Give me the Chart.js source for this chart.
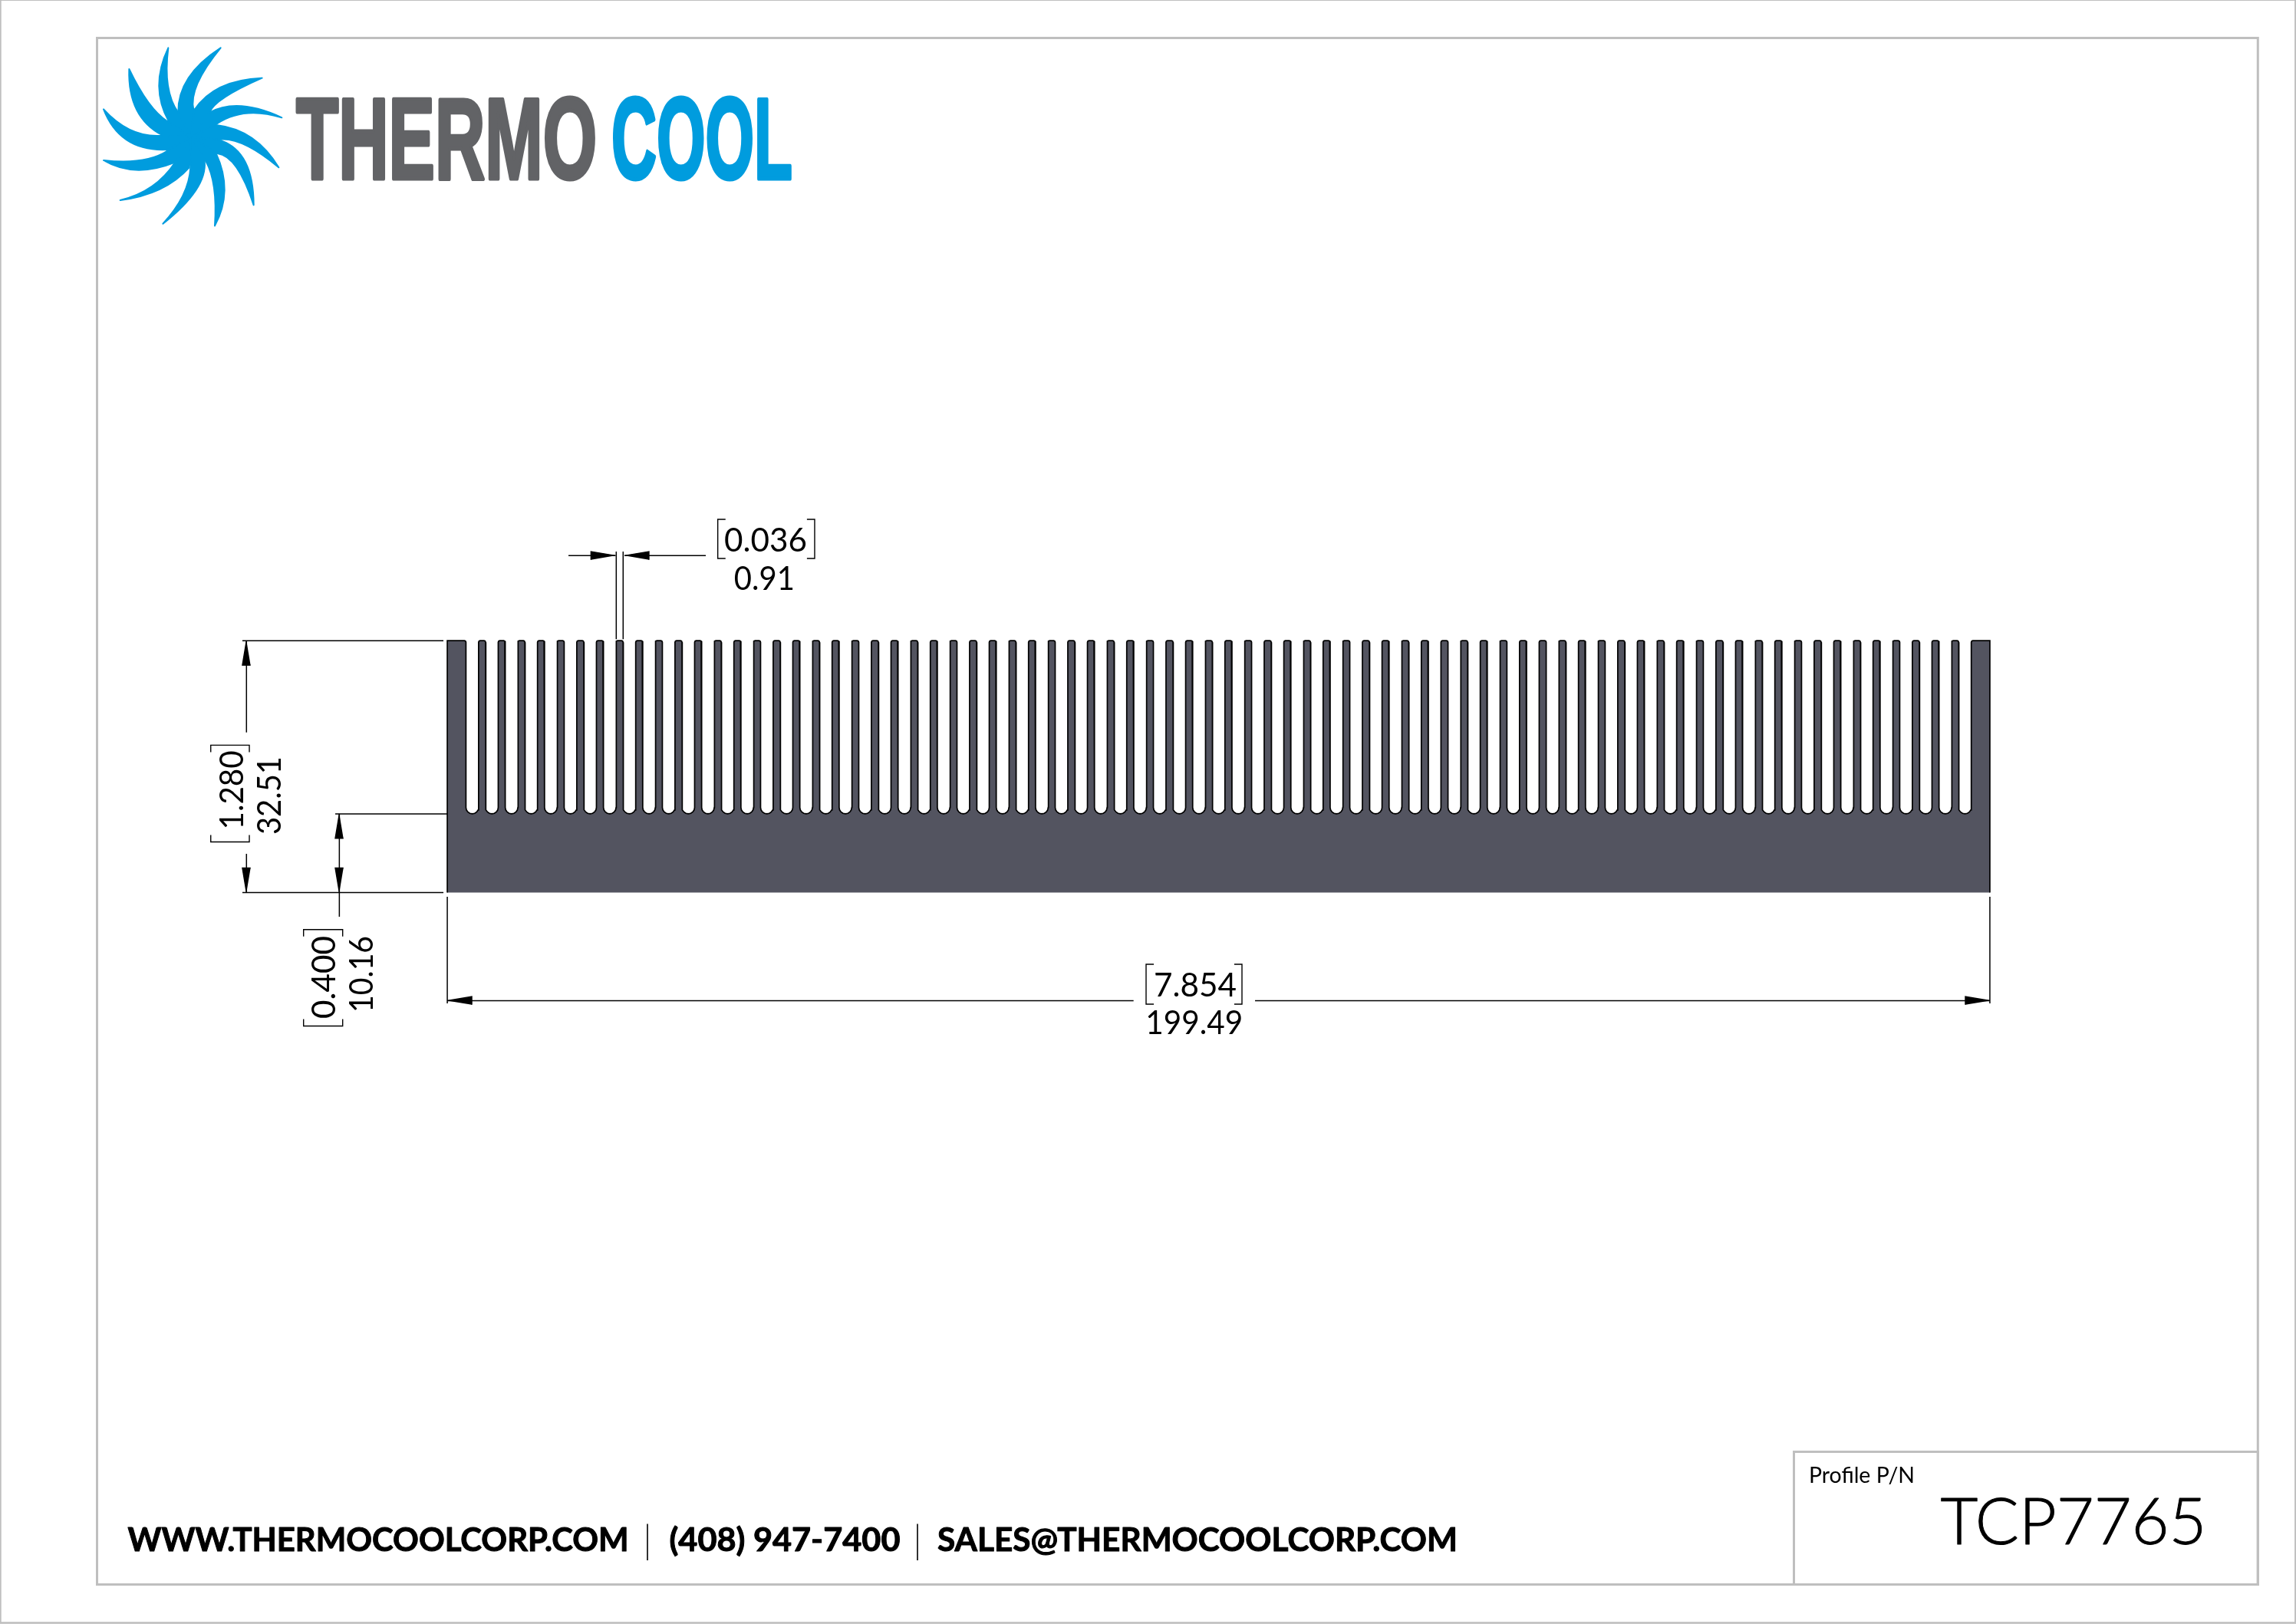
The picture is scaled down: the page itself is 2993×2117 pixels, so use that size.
<!DOCTYPE html>
<html>
<head>
<meta charset="utf-8">
<title>TCP7765</title>
<script src="https://cdn.jsdelivr.net/npm/chart.js@4/dist/chart.umd.min.js"></script>
<style>
html, body { margin: 0; padding: 0; background: #fff; }
canvas { display: block; }
</style>
</head>
<body>
<canvas id="profile" width="2993" height="2117"></canvas>
<script>
// profile values, all in mm
var partWidth = 199.49;
var partHeight = 32.51;
var baseHeight = 10.16;
var finWidth = 0.91;
var slotWidth = 1.63;
var finCentres = [
  4.50, 7.04, 9.58, 12.12, 14.66, 17.20, 19.74, 22.28, 24.82, 27.36, 29.90, 32.44, 34.98, 37.52, 40.06, 42.60,
  45.14, 47.68, 50.22, 52.76, 55.30, 57.84, 60.38, 62.92, 65.46, 68.00, 70.54, 73.08, 75.62, 78.16, 80.70, 83.24,
  85.78, 88.32, 90.86, 93.40, 95.94, 98.48, 101.02, 103.56, 106.10, 108.64, 111.18, 113.72, 116.26, 118.80, 121.34, 123.88,
  126.42, 128.96, 131.50, 134.04, 136.58, 139.12, 141.66, 144.20, 146.74, 149.28, 151.82, 154.36, 156.90, 159.44,
  161.98, 164.52, 167.06, 169.60, 172.14, 174.68, 177.22, 179.76, 182.30, 184.84, 187.38, 189.92, 192.46, 195.00
];
// slot root, offsets from slot centre / base top
var rootDx = [-0.815, -0.753, -0.576, -0.312, 0, 0.312, 0.576, 0.753, 0.815];
var rootDy = [0.815, 0.503, 0.239, 0.062, 0, 0.062, 0.239, 0.503, 0.815];

// dimension lines x1, y1, x2, y2
var dimLines = [
  [15.67, 43.48, 21.75, 43.48], [22.91, 43.48, 33.43, 43.48],
  [21.85, 44.0, 21.85, 32.7], [22.74, 44.0, 22.74, 32.7],
  [-26.5, 32.51, -0.5, 32.51], [-26.5, 0, -0.5, 0],
  [-25.97, 32.51, -25.97, 20.68], [-25.97, 5.0, -25.97, 0],
  [-14.49, 10.16, 3.2, 10.16], [-13.96, 10.16, -13.96, -3.12],
  [0, -0.54, 0, -14.31], [199.49, -0.54, 199.49, -14.31],
  [0, -13.96, 88.75, -13.96], [104.46, -13.96, 199.49, -13.96]
];
// arrow tip x, y, and which way it points
var arrowTips = [
  [21.75, 43.48, 'right'], [22.91, 43.48, 'left'],
  [-25.97, 32.51, 'up'], [-25.97, 0, 'down'],
  [-13.96, 10.16, 'up'], [-13.96, 0, 'down'],
  [0, -13.96, 'left'], [199.49, -13.96, 'right']
];
// brackets around the inch value: x1, y1, x2, y2
var bracketsFlat = [[34.98, 48.17, 47.51, 43.12], [90.37, -9.26, 102.77, -14.41]];
var bracketsTurned = [[-30.59, 19.02, -25.60, 6.53], [-18.59, -4.78, -13.53, -17.23]];

var inchLabels = ['0.036', '7.854', '1.280', '0.400'];
var mmLabels = ['0.91', '199.49', '32.51', '10.16'];
var footerParts = ['WWW.THERMOCOOLCORP.COM', '|', '(408) 947-7400', '|', 'SALES@THERMOCOOLCORP.COM'];

var lineColor = '#000';
var partColor = '#535460';
var frameColor = '#bfbfbf';
var logoBlue = '#009cde';
var logoGrey = '#626366';
var dimFont = '400 43px Lato, "Open Sans", sans-serif';
var logoFont = '700 150px "Liberation Sans Narrow", "Liberation Sans", sans-serif';

// closed outline of the extrusion
function buildOutline() {
  var pts = [{x: 0, y: 0}, {x: 0, y: partHeight}];
  var half = slotWidth / 2;
  var slots = finCentres.map(function (c) { return c - (finWidth + slotWidth) / 2; });
  slots.push(finCentres[finCentres.length - 1] + (finWidth + slotWidth) / 2);
  slots.forEach(function (c) {
    pts.push({x: c - half - 0.2, y: partHeight});
    pts.push({x: c - half - 0.06, y: partHeight - 0.06});
    pts.push({x: c - half, y: partHeight - 0.2});
    rootDx.forEach(function (dx, i) {
      pts.push({x: c + dx, y: baseHeight + rootDy[i]});
    });
    pts.push({x: c + half, y: partHeight - 0.2});
    pts.push({x: c + half + 0.06, y: partHeight - 0.06});
    pts.push({x: c + half + 0.2, y: partHeight});
  });
  pts.push({x: partWidth, y: partHeight});
  pts.push({x: partWidth, y: 0});
  return pts;
}

function lineSet(points, width) {
  return {
    type: 'line', data: points, borderColor: lineColor, borderWidth: width || 1.4,
    pointRadius: 0, tension: 0, fill: false, parsing: true
  };
}

function arrowSet(tip) {
  var len = 3.17, w = 0.53, x = tip[0], y = tip[1], pts;
  if (tip[2] === 'right') pts = [{x: x, y: y}, {x: x - len, y: y + w}, {x: x - len, y: y - w}];
  if (tip[2] === 'left') pts = [{x: x, y: y}, {x: x + len, y: y + w}, {x: x + len, y: y - w}];
  if (tip[2] === 'up') pts = [{x: x, y: y}, {x: x - w, y: y - len}, {x: x + w, y: y - len}];
  if (tip[2] === 'down') pts = [{x: x, y: y}, {x: x - w, y: y + len}, {x: x + w, y: y + len}];
  var set = lineSet(pts, 0);
  set.fill = 'shape';
  set.backgroundColor = lineColor;
  return set;
}

var datasets = [];
var outline = lineSet(buildOutline(), 1.7);
outline.fill = 'shape';
outline.backgroundColor = partColor;
datasets.push(outline);

dimLines.forEach(function (l) {
  datasets.push(lineSet([{x: l[0], y: l[1]}, {x: l[2], y: l[3]}], 1.5));
});
arrowTips.forEach(function (t) { datasets.push(arrowSet(t)); });
bracketsFlat.forEach(function (b) {
  datasets.push(lineSet([{x: b[0] + 1, y: b[1]}, {x: b[0], y: b[1]}, {x: b[0], y: b[3]}, {x: b[0] + 1, y: b[3]}], 1.4));
  datasets.push(lineSet([{x: b[2] - 1, y: b[1]}, {x: b[2], y: b[1]}, {x: b[2], y: b[3]}, {x: b[2] - 1, y: b[3]}], 1.4));
});
bracketsTurned.forEach(function (b) {
  datasets.push(lineSet([{x: b[0], y: b[1] - 0.9}, {x: b[0], y: b[1]}, {x: b[2], y: b[1]}, {x: b[2], y: b[1] - 0.9}], 1.4));
  datasets.push(lineSet([{x: b[0], y: b[3] + 0.9}, {x: b[0], y: b[3]}, {x: b[2], y: b[3]}, {x: b[2], y: b[3] + 0.9}], 1.4));
});

// text squeezed to the width it has in the drawing
function fitText(ctx, text, cx, cy, width, font, capH, color, turned, thicken) {
  ctx.save();
  ctx.font = font;
  ctx.fillStyle = color;
  ctx.strokeStyle = color;
  ctx.textAlign = 'center';
  ctx.textBaseline = 'alphabetic';
  var sx = width / ctx.measureText(text).width;
  ctx.translate(cx, cy);
  if (turned) ctx.rotate(-Math.PI / 2);
  ctx.scale(sx, 1);
  ctx.fillText(text, 0, capH / 2);
  if (thicken) {
    ctx.lineWidth = thicken;
    ctx.lineJoin = 'round';
    ctx.strokeText(text, 0, capH / 2);
  }
  ctx.restore();
}

var blades = [
  [[283, 22], [247, 170], [285, 310], [282, 170], [322, 275]],
  [[488, 22], [362, 140], [322, 275], [398, 160], [382, 265]],
  [[650, 140], [490, 175], [385, 265], [505, 215], [445, 275]],
  [[727, 295], [570, 250], [445, 275], [590, 278], [475, 318]],
  [[715, 490], [610, 375], [475, 325], [590, 405], [490, 380]],
  [[617, 637], [585, 470], [490, 385], [550, 490], [475, 435]],
  [[465, 718], [503, 580], [470, 435], [462, 570], [430, 465]],
  [[262, 710], [390, 580], [425, 465], [340, 600], [370, 490]],
  [[95, 618], [250, 575], [365, 490], [218, 565], [310, 470]],
  [[30, 462], [160, 500], [310, 470], [175, 462], [280, 425]],
  [[30, 262], [125, 385], [280, 420], [140, 345], [262, 365]],
  [[130, 105], [160, 265], [262, 365], [205, 235], [280, 310]]
];

function curveThrough(ctx, a, m, b) {
  ctx.quadraticCurveTo(2 * m[0] - (a[0] + b[0]) / 2, 2 * m[1] - (a[1] + b[1]) / 2, b[0], b[1]);
}

function drawSwirl(ctx) {
  ctx.save();
  ctx.translate(125, 55);
  ctx.scale(1 / 3, 1 / 3);
  ctx.fillStyle = logoBlue;
  ctx.strokeStyle = logoBlue;
  ctx.lineWidth = 6;
  ctx.lineJoin = 'round';
  ctx.beginPath();
  ctx.arc(372, 370, 112, 0, Math.PI * 2);
  ctx.fill();
  blades.forEach(function (b) {
    ctx.beginPath();
    ctx.moveTo(b[2][0], b[2][1]);
    curveThrough(ctx, b[2], b[1], b[0]);
    curveThrough(ctx, b[0], b[3], b[4]);
    ctx.lineTo(372, 370);
    ctx.closePath();
    ctx.fill();
    ctx.stroke();
  });
  ctx.restore();
}

var sheet = {
  id: 'sheet',
  beforeDraw: function (chart) {
    var ctx = chart.ctx;
    ctx.save();
    ctx.fillStyle = '#fff';
    ctx.fillRect(0, 0, 2993, 2117);
    ctx.strokeStyle = frameColor;
    ctx.lineWidth = 2.6;
    ctx.strokeRect(0.4, -0.3, 2992, 2115.8);
    ctx.lineWidth = 3;
    ctx.strokeRect(126.5, 49.5, 2816.8, 2016);
    ctx.strokeRect(2338.5, 1892.5, 604.8, 173);
    ctx.restore();
  },
  afterDraw: function (chart) {
    var ctx = chart.ctx, sx = chart.scales.x, sy = chart.scales.y;
    function at(text, x, y, width, turned) {
      fitText(ctx, text, sx.getPixelForValue(x), sy.getPixelForValue(y), width, dimFont, 31, '#000', turned);
    }
    at(inchLabels[0], 41.16, 45.5, 108);
    at(mmLabels[0], 41.0, 40.59, 79);
    at(inchLabels[1], 96.72, -11.88, 108);
    at(mmLabels[1], 96.6, -16.78, 127);
    at(inchLabels[2], -27.98, 13.22, 103, true);
    at(mmLabels[2], -23.12, 12.52, 102, true);
    at(inchLabels[3], -15.98, -10.94, 108, true);
    at(mmLabels[3], -11.14, -10.54, 100, true);

    drawSwirl(ctx);
    fitText(ctx, 'THERMO', 582, 176, 392, logoFont, 113, logoGrey, false, 5);
    fitText(ctx, 'COOL', 915, 176, 236, logoFont, 113, logoBlue, false, 5);

    var footFont = '700 42px Lato, sans-serif';
    var barFont = '400 50px Lato, sans-serif';
    fitText(ctx, footerParts[0], 493, 2007, 653, footFont, 30, '#000', false, 1);
    fitText(ctx, footerParts[1], 844, 2010, 6, barFont, 30, '#000');
    fitText(ctx, footerParts[2], 1023, 2007, 301, footFont, 30, '#000', false, 1);
    fitText(ctx, footerParts[3], 1196, 2010, 6, barFont, 30, '#000');
    fitText(ctx, footerParts[4], 1561, 2007, 678, footFont, 30, '#000', false, 1);

    fitText(ctx, 'Profile P/N', 2427, 1923, 138, '400 28px Lato, sans-serif', 20, '#000');
    fitText(ctx, 'TCP7765', 2703, 1982, 347, '300 85px Lato, sans-serif', 61, '#000', false, 1);
  }
};

new Chart(document.getElementById('profile').getContext('2d'), {
  type: 'scatter',
  data: {datasets: datasets},
  options: {
    responsive: false,
    devicePixelRatio: 1,
    animation: false,
    events: [],
    layout: {padding: 0},
    elements: {line: {borderCapStyle: 'butt', borderJoinStyle: 'miter'}},
    datasets: {scatter: {showLine: true}},
    plugins: {legend: {display: false}, title: {display: false}, tooltip: {enabled: false}},
    scales: {
      x: {type: 'linear', display: false, min: -57.845, max: 239.08},
      y: {type: 'linear', display: false, min: -94.406, max: 115.198}
    }
  },
  plugins: [sheet]
});
</script>
</body>
</html>
